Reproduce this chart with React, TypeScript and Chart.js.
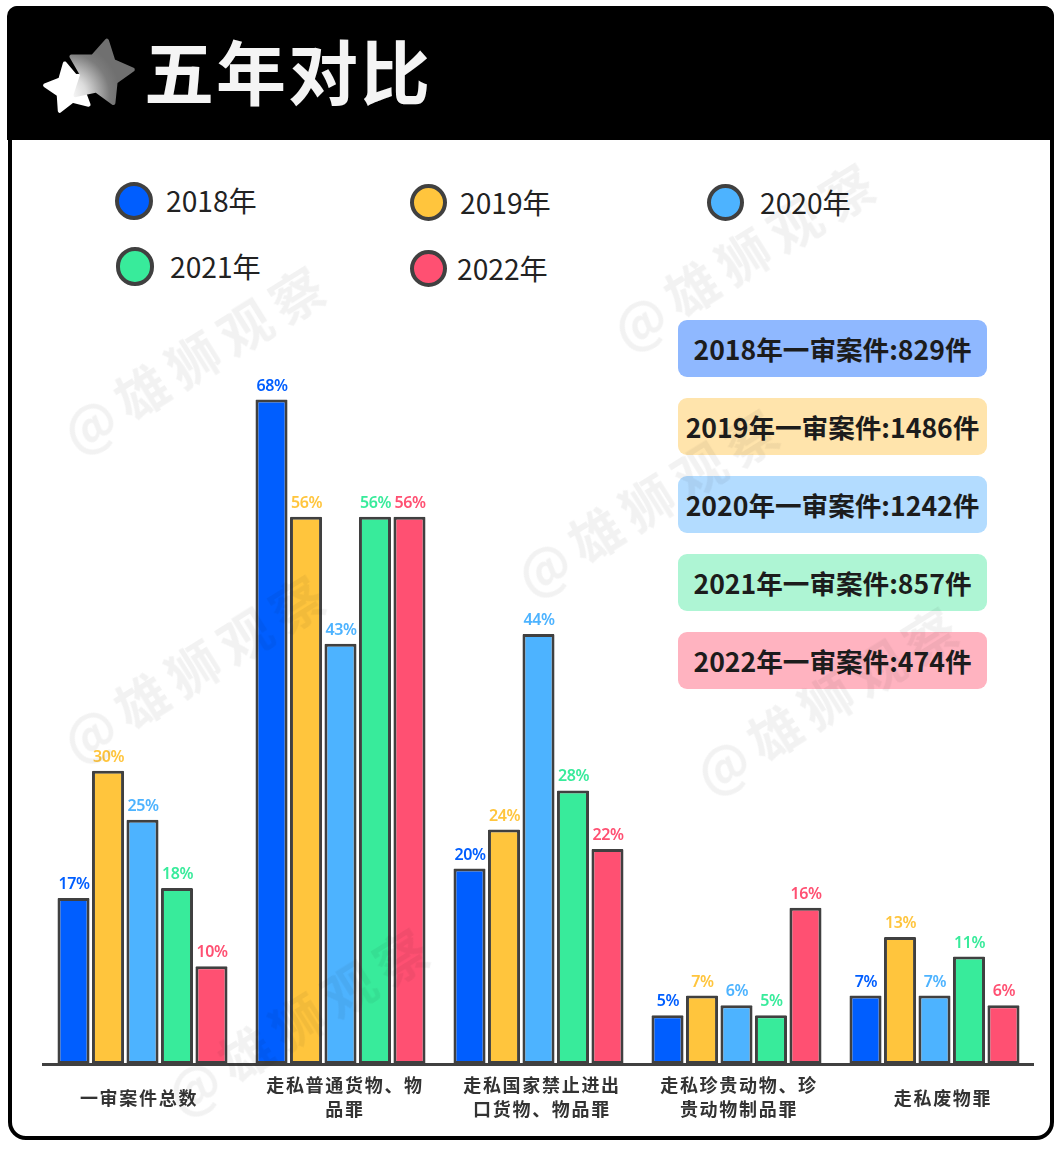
import React, { useEffect, useRef } from "react";
import { Chart, registerables } from "chart.js";

Chart.register(...registerables);

const categories: string[][] = [
  ["一审案件总数"],
  ["走私普通货物、物", "品罪"],
  ["走私国家禁止进出", "口货物、物品罪"],
  ["走私珍贵动物、珍", "贵动物制品罪"],
  ["走私废物罪"],
];
const years = ["2018年", "2019年", "2020年", "2021年", "2022年"];
const v2018 = [17, 68, 20, 5, 7];
const v2019 = [30, 56, 24, 7, 13];
const v2020 = [25, 43, 44, 6, 7];
const v2021 = [18, 56, 28, 5, 11];
const v2022 = [10, 56, 22, 16, 6];
const caseCounts = ["829", "1486", "1242", "857", "474"];
const title = "五年对比";
const watermark = "@雄狮观察";

const seriesValues = [v2018, v2019, v2020, v2021, v2022];
const colors = ["#005EFF", "#FFC53D", "#4DB3FF", "#38EB9B", "#FF5072"];
const badgeColors = ["#8FB8FF", "#FFE4AC", "#B3DCFF", "#AEF5D4", "#FFB3C0"];
const edge = "#404040";
const CJK = '"Noto Sans CJK SC", "Noto Sans", sans-serif';

const legendDots = [
  { cx: 134, cy: 200.5, r: 19, tx: 166, ty: 200 },
  { cx: 428.5, cy: 202, r: 18.5, tx: 460, ty: 202 },
  { cx: 725, cy: 202, r: 18.5, tx: 760, ty: 202 },
  { cx: 135, cy: 266.5, r: 19.3, tx: 170, ty: 266 },
  { cx: 428, cy: 268, r: 18.5, tx: 457, ty: 268 },
];
const badgeTops = [320, 398, 476, 554, 632];
const watermarkSpots = [
  { x: 196, y: 356 },
  { x: 746, y: 253 },
  { x: 650, y: 499 },
  { x: 196, y: 665 },
  { x: 829, y: 697 },
  { x: 300, y: 1018 },
];
const tickShiftX = [-3.5, 4.5, 3.5, 2.5, 8.5];
const tickShiftY = [1, 0, 0, 0, 1];

const labelPlugin = {
  id: "barLabels",
  beforeDraw(chart: any) {
    (chart.ctx as any).letterSpacing = "1.7px";
    const items = chart.scales.x.getLabelItems();
    items.forEach((it: any, i: number) => {
      if (it.__moved) return;
      it.__moved = true;
      it.options.translation = [it.options.translation[0] + tickShiftX[i], it.options.translation[1] + tickShiftY[i]];
    });
  },
  afterDatasetsDraw(chart: any) {
    const ctx = chart.ctx;
    ctx.save();
    (ctx as any).letterSpacing = "-0.4px";
    ctx.font = `600 16px "Noto Sans", sans-serif`;
    ctx.textAlign = "center";
    ctx.textBaseline = "middle";
    chart.data.datasets.forEach((ds: any, i: number) => {
      chart.getDatasetMeta(i).data.forEach((el: any, j: number) => {
        ctx.fillStyle = colors[i];
        ctx.fillText(`${ds.data[j]}%`, el.x + 0.5, el.y - 13.5);
      });
    });
    ctx.restore();
  },
};

function star(cx: number, cy: number, R: number, rInner: number, rot: number) {
  const pts: string[] = [];
  for (let i = 0; i < 10; i++) {
    const rad = i % 2 === 0 ? R : rInner;
    const a = ((rot + i * 36 - 90) * Math.PI) / 180;
    pts.push(`${(cx + rad * Math.cos(a)).toFixed(1)},${(cy + rad * Math.sin(a)).toFixed(1)}`);
  }
  return pts.join(" ");
}

export default function App() {
  const ref = useRef<HTMLCanvasElement>(null);
  useEffect(() => {
    const chart = new Chart(ref.current as HTMLCanvasElement, {
      type: "bar",
      data: {
        labels: categories as any,
        datasets: seriesValues.map((data, i) => ({
          label: years[i],
          data,
          backgroundColor: colors[i],
          borderColor: edge,
          borderWidth: 3,
          borderRadius: 1,
          borderSkipped: false as any,
          categoryPercentage: 0.871,
          barPercentage: 0.93,
        })),
      },
      options: {
        responsive: false,
        animation: false,
        layout: { padding: { left: 43.5, right: 26.5, top: 380, bottom: 0 } },
        plugins: { legend: { display: false }, tooltip: { enabled: false } },
        scales: {
          x: {
            afterFit(scale: any) {
              scale.height = 88;
            },
            grid: { display: false },
            border: { display: true, color: edge, width: 3 },
            ticks: {
              autoSkip: false,
              maxRotation: 0,
              minRotation: 0,
              crossAlign: "center",
              padding: 13,
              color: "#333333",
              font: { family: CJK, size: 18, weight: 700, lineHeight: 1.33 },
            },
          },
          y: { display: false, min: 0, max: 70 },
        },
      },
      plugins: [labelPlugin],
    } as any);
    return () => chart.destroy();
  }, []);

  return (
    <div style={{ position: "absolute", left: 0, top: 0, width: 1060, height: 1152, background: "#fff", overflow: "hidden", fontFamily: CJK }}>
      {/* frame */}
      <div style={{ position: "absolute", left: 8, top: 6, width: 1046, height: 1134, boxSizing: "border-box", border: "4px solid #000", borderRadius: "10px 10px 18px 18px" }} />
      {/* header */}
      <div style={{ position: "absolute", left: 7, top: 6, width: 1047, height: 134, background: "#000", borderRadius: "10px 10px 0 0" }} />
      <svg width={1060} height={160} style={{ position: "absolute", left: 0, top: 0 }}>
        <defs>
          <radialGradient id="sg" gradientUnits="userSpaceOnUse" cx={68} cy={95} r={52}>
            <stop offset="0" stopColor="#ffffff" />
            <stop offset="0.35" stopColor="#dcdcdc" />
            <stop offset="0.8" stopColor="#7c7c7c" />
            <stop offset="1" stopColor="#707070" />
          </radialGradient>
        </defs>
        <polygon points={star(70, 88, 25, 13, -12)} fill="#fff" stroke="#fff" strokeWidth={4} strokeLinejoin="round" />
        <polygon points={star(100, 73, 33, 18, 12)} fill="url(#sg)" stroke="url(#sg)" strokeWidth={4} strokeLinejoin="round" />
      </svg>
      <div style={{ position: "absolute", left: 144, top: 18, height: 104, lineHeight: "104px", fontSize: 70, fontWeight: 700, letterSpacing: 2, color: "#F4F4F4", whiteSpace: "nowrap" }}>{title}</div>

      {/* legend */}
      {years.map((y, i) => {
        const d = legendDots[i];
        return (
          <React.Fragment key={y}>
            <div style={{ position: "absolute", left: d.cx - d.r, top: d.cy - d.r, width: d.r * 2, height: d.r * 2, boxSizing: "border-box", borderRadius: "50%", border: `4px solid ${edge}`, background: colors[i] }} />
            <div style={{ position: "absolute", left: d.tx, top: d.ty - 22, height: 44, lineHeight: "44px", fontSize: 28.2, color: "#222", whiteSpace: "nowrap" }}>{y}</div>
          </React.Fragment>
        );
      })}

      {/* case-count badges */}
      {years.map((y, i) => (
        <div key={y} style={{ position: "absolute", left: 678, top: badgeTops[i], width: 309, height: 57, borderRadius: 9, background: badgeColors[i], textAlign: "center", lineHeight: "57px", fontSize: 26.6, fontWeight: 700, color: "#1C1C1C", whiteSpace: "nowrap" }}>
          {`${y}一审案件:${caseCounts[i]}件`}
        </div>
      ))}

      <canvas ref={ref} width={1060} height={1152} style={{ position: "absolute", left: 0, top: 0, display: "block" }} />

      {/* watermarks */}
      {watermarkSpots.map((p, i) => (
        <div key={i} style={{ position: "absolute", left: p.x - 200, top: p.y - 40, width: 400, height: 80, lineHeight: "80px", textAlign: "center", fontSize: 52, fontWeight: 700, letterSpacing: 9, color: "rgba(0,0,0,0.05)", transform: "rotate(-32deg)", whiteSpace: "nowrap" }}>
          {watermark}
        </div>
      ))}
    </div>
  );
}
